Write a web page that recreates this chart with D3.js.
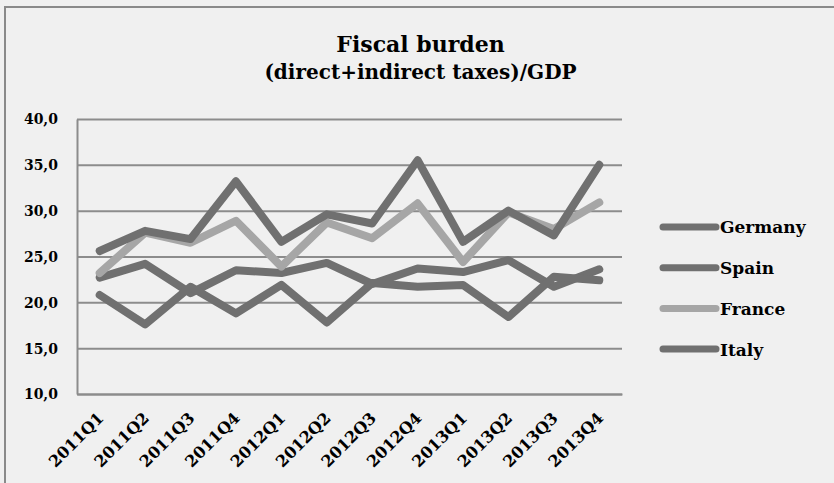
<!DOCTYPE html>
<html>
<head>
<meta charset="utf-8">
<script src="https://cdn.jsdelivr.net/npm/d3@7"></script>
<style>
  html, body { margin: 0; padding: 0; background: #f0f0f0; }
  svg { display: block; }
  text { font-family: "DejaVu Serif", serif; font-weight: bold; fill: #000; }
</style>
</head>
<body>
<svg id="chart" width="834" height="483"></svg>
<script>
const categories = ["2011Q1","2011Q2","2011Q3","2011Q4","2012Q1","2012Q2","2012Q3","2012Q4","2013Q1","2013Q2","2013Q3","2013Q4"];
const germany = [22.7, 24.2, 21.0, 23.5, 23.2, 24.3, 22.0, 23.7, 23.3, 24.6, 21.7, 23.6];
const spain   = [20.8, 17.6, 21.7, 18.8, 21.9, 17.8, 22.1, 21.7, 21.9, 18.4, 22.8, 22.4];
const france  = [23.2, 27.6, 26.5, 28.9, 23.9, 28.7, 27.0, 30.8, 24.4, 29.8, 28.0, 30.9];
const italy   = [25.6, 27.8, 26.9, 33.2, 26.6, 29.6, 28.6, 35.5, 26.6, 30.0, 27.3, 35.0];
const seriesNames = ["Germany", "Spain", "France", "Italy"];
const yTicks = [10, 15, 20, 25, 30, 35, 40];
const titleText = "Fiscal burden";
const subtitleText = "(direct+indirect taxes)/GDP";

const series = [
  { name: seriesNames[0], values: germany, color: "#707070" },
  { name: seriesNames[1], values: spain,   color: "#707070" },
  { name: seriesNames[2], values: france,  color: "#a6a6a6" },
  { name: seriesNames[3], values: italy,   color: "#707070" }
];

const svg = d3.select("#chart");
const plot = { left: 77, right: 622, top: 119, bottom: 394 };

// chart frame
svg.append("rect")
  .attr("x", 5).attr("y", 7).attr("width", 900).attr("height", 600)
  .attr("fill", "#f0f0f0").attr("stroke", "#8a8a8a").attr("stroke-width", 2);

const x = d3.scaleBand().domain(categories).range([plot.left, plot.right]).padding(0);
const y = d3.scaleLinear().domain([10, 40]).range([plot.bottom, plot.top]);

// gridlines
const grid = svg.append("g")
  .attr("transform", `translate(${plot.left},0)`)
  .call(d3.axisRight(y).tickValues(yTicks).tickSize(plot.right - plot.left).tickFormat(""));
grid.select(".domain").remove();
grid.selectAll("line").attr("stroke", "#8c8c8c").attr("stroke-width", 2);

// y axis
const yAxis = svg.append("g")
  .attr("transform", `translate(${plot.left},0)`)
  .call(d3.axisLeft(y).tickValues(yTicks).tickSize(0).tickPadding(19)
    .tickFormat(d => d3.format(".1f")(d).replace(".", ",")));
yAxis.select(".domain").attr("stroke", "#8c8c8c").attr("stroke-width", 2);
yAxis.selectAll("text").attr("font-size", 14).attr("dy", "0.35em");

// x axis
const xAxis = svg.append("g")
  .attr("transform", `translate(0,${plot.bottom})`)
  .call(d3.axisBottom(x).tickSize(0).tickPadding(0));
xAxis.select(".domain").attr("stroke", "#8c8c8c").attr("stroke-width", 2);
xAxis.selectAll("text")
  .attr("font-size", 16)
  .attr("text-anchor", "end")
  .attr("y", 0).attr("dy", 0)
  .attr("transform", "translate(5,25) rotate(-45)");

// lines
const line = d3.line()
  .x((d, i) => x(categories[i]) + x.bandwidth() / 2)
  .y(d => y(d));

svg.append("g").selectAll("path")
  .data(series).join("path")
  .attr("d", d => line(d.values))
  .attr("fill", "none")
  .attr("stroke", d => d.color)
  .attr("stroke-width", 8)
  .attr("stroke-linejoin", "round")
  .attr("stroke-linecap", "round");

// title
svg.append("text").attr("x", 420.5).attr("y", 52).attr("text-anchor", "middle")
  .attr("font-size", 22).text(titleText);
svg.append("text").attr("x", 420.5).attr("y", 79).attr("text-anchor", "middle")
  .attr("font-size", 20).text(subtitleText);

// legend
const legend = svg.append("g").attr("transform", "translate(660,227)");
const item = legend.selectAll("g").data(series).join("g")
  .attr("transform", (d, i) => `translate(0,${i * 40.7})`);
item.append("line").attr("x1", 3).attr("x2", 56).attr("y1", 0).attr("y2", 0)
  .attr("stroke", d => d.color).attr("stroke-width", 7).attr("stroke-linecap", "round");
item.append("text").attr("x", 60).attr("y", 0).attr("dy", "0.38em")
  .attr("font-size", 17).text(d => d.name);
</script>
</body>
</html>
